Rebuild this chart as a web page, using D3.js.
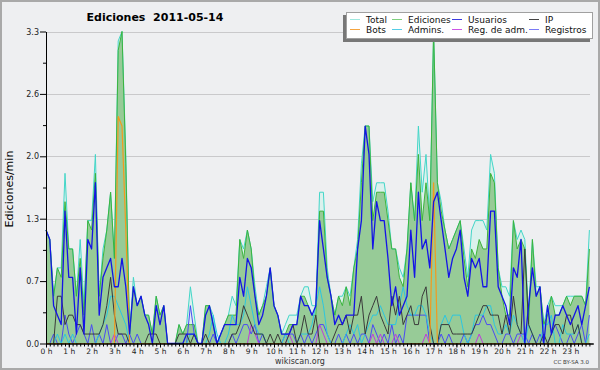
<!DOCTYPE html>
<html>
<head>
<meta charset="utf-8">
<script src="https://cdn.jsdelivr.net/npm/d3@7"></script>
<style>
  body { margin: 0; background: #eeeeee; }
  svg { display: block; font-family: "DejaVu Sans", sans-serif; }
</style>
</head>
<body>
<div id="chart"></div>
<script>
// edits per minute, one value every 10 minutes (144 slots, 0:00 -> 23:50)
const total = [
  1.2,1.1,0.5,0.8,0.8,1.8, 1.0,1.0,0.5,1.1,0.4,1.3, 1.3,2.0,0.5,1.0,1.2,1.6, 0.9,3.2,3.3,2.0,0.1,0.7,
  0.4,0.5,0.3,0.3,0.1,0.5, 0.3,0.4,0.0,0.0,0.0,0.2, 0.1,0.2,0.6,0.3,0.0,0.0, 0.4,0.4,0.3,0.0,0.1,0.2,
  0.3,0.5,0.4,1.1,1.0,1.2, 1.0,0.6,0.3,0.4,0.6,0.8, 0.4,0.3,0.1,0.2,0.3,0.3, 0.3,0.5,0.6,0.6,0.4,0.4,
  1.6,1.6,0.8,0.5,0.3,0.5, 0.5,0.6,0.5,0.8,1.1,1.9, 2.3,2.3,1.5,1.7,1.7,1.7, 1.4,1.0,1.0,0.8,0.7,1.0,
  1.7,1.3,2.3,1.6,2.0,1.3, 3.3,1.7,1.5,1.2,1.0,1.1, 1.2,1.3,1.0,0.7,1.2,1.3, 1.3,1.3,1.2,2.0,1.8,0.8,
  0.6,0.6,0.5,1.3,1.1,1.2, 1.1,0.3,1.1,0.6,0.6,0.2, 0.4,0.5,0.4,0.4,0.4,0.5, 0.5,0.5,0.5,0.5,0.4,1.2
]
const ediciones = [
  1.2,1.1,0.5,0.8,0.7,1.5, 1.0,1.0,0.5,0.9,0.3,1.3, 1.2,1.8,0.5,0.9,1.2,1.6, 0.9,3.1,3.3,1.9,0.1,0.6,
  0.4,0.5,0.3,0.3,0.1,0.5, 0.3,0.4,0.0,0.0,0.0,0.2, 0.1,0.2,0.2,0.2,0.0,0.0, 0.4,0.4,0.2,0.0,0.1,0.2,
  0.3,0.3,0.3,1.1,0.9,1.2, 1.0,0.5,0.3,0.4,0.5,0.8, 0.4,0.3,0.1,0.1,0.2,0.2, 0.2,0.5,0.5,0.4,0.3,0.3,
  1.4,1.4,0.7,0.5,0.3,0.5, 0.4,0.6,0.4,0.8,1.0,1.7, 2.3,2.3,1.3,1.6,1.6,1.6, 1.3,1.0,1.0,0.7,0.6,1.0,
  1.7,1.3,2.0,1.3,1.7,1.3, 3.3,1.7,1.4,1.2,1.0,1.1, 1.2,1.3,0.9,0.6,1.0,0.9, 1.1,1.0,1.0,1.8,1.7,0.8,
  0.5,0.3,0.3,1.3,1.0,1.1, 1.0,0.2,1.1,0.5,0.6,0.2, 0.3,0.5,0.3,0.3,0.4,0.5, 0.4,0.5,0.5,0.5,0.4,1.0
]
const usuarios = [
  1.2,1.1,0.4,0.3,0.2,1.4, 0.7,0.7,0.1,0.8,0.1,1.1, 1.0,1.7,0.3,0.7,0.8,0.9, 0.6,0.6,0.9,0.6,0.1,0.6,
  0.4,0.5,0.3,0.2,0.0,0.4, 0.2,0.4,0.0,0.0,0.0,0.0, 0.0,0.1,0.1,0.1,0.0,0.0, 0.3,0.4,0.2,0.0,0.1,0.2,
  0.2,0.2,0.2,0.7,0.5,0.9, 0.8,0.5,0.2,0.3,0.5,0.8, 0.4,0.3,0.1,0.1,0.1,0.2, 0.2,0.5,0.4,0.4,0.3,0.4,
  1.3,1.0,0.7,0.5,0.2,0.3, 0.2,0.3,0.3,0.3,1.0,1.3, 2.3,2.0,1.0,1.5,1.3,1.3, 0.9,0.4,0.6,0.3,0.4,0.5,
  1.2,0.7,1.6,1.0,1.1,0.8, 1.5,1.6,1.3,1.0,0.7,0.9, 1.0,1.2,0.7,0.5,0.9,0.8, 0.9,0.6,0.6,1.4,1.4,0.6,
  0.5,0.4,0.2,0.8,0.7,1.1, 0.0,0.4,0.8,0.5,0.6,0.0, 0.4,0.1,0.3,0.3,0.4,0.3, 0.2,0.3,0.4,0.2,0.4,0.6
]
const ip = [
  0.0,0.0,0.0,0.5,0.5,0.2, 0.3,0.3,0.2,0.2,0.1,0.1, 0.1,0.1,0.1,0.2,0.4,0.7, 0.3,0.1,0.1,0.1,0.0,0.0,
  0.0,0.0,0.0,0.1,0.1,0.1, 0.0,0.0,0.0,0.0,0.0,0.1, 0.1,0.1,0.0,0.1,0.0,0.0, 0.1,0.0,0.0,0.0,0.0,0.0,
  0.0,0.1,0.1,0.2,0.4,0.3, 0.2,0.1,0.1,0.1,0.0,0.1, 0.0,0.1,0.0,0.0,0.1,0.2, 0.0,0.1,0.3,0.1,0.1,0.3,
  0.0,0.0,0.0,0.0,0.1,0.2, 0.2,0.3,0.1,0.3,0.3,0.5, 0.1,0.3,0.4,0.5,0.3,0.2, 0.1,0.5,0.3,0.5,0.2,0.3,
  0.4,0.2,0.2,0.5,0.6,0.2, 0.0,0.0,0.2,0.2,0.2,0.1, 0.1,0.1,0.1,0.1,0.1,0.2, 0.3,0.4,0.4,0.3,0.3,0.3,
  0.1,0.3,0.1,0.5,0.2,0.1, 1.0,0.2,0.1,0.0,0.0,0.1, 0.0,0.1,0.2,0.2,0.1,0.3, 0.3,0.1,0.2,0.0,0.0,0.0
]
const bots = [
  0,0,0,0,0,0, 0,0,0,0,0,0, 0,0,0,0,0,0, 0,2.4,2.3,1.2,0,0,
  0,0,0,0,0,0, 0,0,0,0,0,0, 0,0,0,0,0,0, 0,0,0,0,0,0,
  0,0,0,0,0,0, 0,0,0,0,0,0, 0,0,0,0,0,0, 0,0,0,0,0,0,
  0,0,0,0,0,0, 0,0,0,0,0,0, 0,0,0,0,0,0, 0,0,0,0,0,0,
  0,0,0,0,0,0, 1.7,0,0,0,0,0, 0,0,0,0,0,0, 0,0,0,0,0,0,
  0,0,0,0,0,0, 0,0,0,0,0,0, 0,0,0,0,0,0, 0,0,0,0,0,0
]
const admins = [
  0.0,0.0,0.0,0.1,0.0,0.1, 0.0,0.1,0.0,0.0,0.0,0.0, 0.0,0.0,0.1,0.2,0.3,0.5, 0.5,0.4,0.3,0.2,0.0,0.0,
  0.0,0.0,0.0,0.0,0.0,0.0, 0.0,0.0,0.0,0.0,0.0,0.0, 0.0,0.0,0.1,0.1,0.0,0.0, 0.0,0.1,0.3,0.1,0.0,0.0,
  0.1,0.3,0.2,0.2,0.3,0.6, 0.4,0.2,0.1,0.1,0.0,0.0, 0.0,0.0,0.0,0.1,0.0,0.0, 0.0,0.1,0.1,0.1,0.2,0.4,
  0.6,0.4,0.1,0.0,0.0,0.0, 0.0,0.1,0.2,0.1,0.2,0.0, 0.1,0.2,0.3,0.3,0.4,0.3, 0.2,0.2,0.2,0.4,0.6,0.4,
  0.3,0.3,0.4,0.4,0.3,0.1, 0.0,0.0,0.2,0.3,0.2,0.3, 0.3,0.3,0.1,0.0,0.1,0.3, 0.3,0.3,0.4,0.4,0.2,0.1,
  0.1,0.2,0.1,0.3,0.2,0.1, 0.0,0.2,0.1,0.0,0.0,0.2, 0.2,0.3,0.0,0.0,0.2,0.1, 0.1,0.1,0.2,0.0,0.0,0.1
]
const regAdm = [
  0,0,0,0,0,0, 0,0,0,0,0,0, 0,0,0,0,0,0, 0.1,0,0,0,0,0,
  0,0,0,0,0,0, 0,0,0,0,0,0, 0,0,0,0,0,0, 0,0,0,0,0,0,
  0,0,0,0,0,0, 0.2,0.1,0,0,0,0, 0,0,0,0,0.1,0, 0,0,0,0,0,0,
  0.2,0.1,0,0,0,0, 0,0,0,0,0,0, 0,0,0.1,0,0.1,0, 0,0,0.1,0,0,0,
  0,0,0,0,0.1,0, 0,0,0,0,0,0, 0,0,0,0,0,0, 0.1,0,0,0,0,0,
  0,0,0,0,0,0.1, 0,0,0,0,0,0, 0,0,0,0,0,0, 0,0,0,0,0,0
]
const registros = [
  0.0,0.0,0.1,0.0,0.0,0.3, 0.1,0.0,0.1,0.2,0.1,0.0, 0.2,0.0,0.1,0.0,0.2,0.0, 0.0,0.1,0.1,0.0,0.1,0.0,
  0.1,0.0,0.0,0.0,0.0,0.0, 0.0,0.0,0.0,0.0,0.0,0.0, 0.0,0.0,0.4,0.1,0.0,0.0, 0.0,0.0,0.1,0.0,0.0,0.0,
  0.0,0.1,0.0,0.1,0.2,0.2, 0.1,0.2,0.0,0.1,0.0,0.0, 0.0,0.0,0.0,0.1,0.1,0.1, 0.0,0.1,0.0,0.1,0.0,0.1,
  0.2,0.2,0.1,0.0,0.0,0.1, 0.0,0.1,0.0,0.1,0.0,0.1, 0.1,0.0,0.2,0.1,0.0,0.1, 0.0,0.2,0.0,0.1,0.0,0.3,
  0.3,0.3,0.3,0.3,0.3,0.0, 0.0,0.0,0.1,0.0,0.1,0.0, 0.0,0.0,0.1,0.0,0.1,0.2, 0.2,0.3,0.2,0.2,0.1,0.0,
  0.0,0.1,0.1,0.0,0.1,0.1, 0.1,0.0,0.1,0.0,0.1,0.0, 0.0,0.1,0.2,0.1,0.0,0.0, 0.1,0.0,0.1,0.2,0.0,0.3
]

const hourLabels = ["0 h","1 h","2 h","3 h","4 h","5 h","6 h","7 h","8 h","9 h","10 h","11 h",
  "12 h","13 h","14 h","15 h","16 h","17 h","18 h","19 h","20 h","21 h","22 h","23 h"]
const yTicks = [0, 0.66, 1.32, 1.98, 2.64, 3.3]
const yTickLabels = ["0.0","0.7","1.3","2.0","2.6","3.3"]

const seriesNames = ["Total","Ediciones","Usuarios","IP","Bots","Admins.","Reg. de adm.","Registros"]
const seriesColors = ["#43d6c8","#3cb43c","#1414e6","#3a3a3a","#f39a1e","#2cc6e0","#c03cdc","#4a4af4"]
const legendColors = ["#9fe8df","#7fd07f","#3c3ce0","#444444","#f5a540","#55cde6","#cc55e6","#7a7af5"]

const width = 600, height = 370
const plot = { left: 46, right: 590, top: 31.5, bottom: 343.5 }

const svg = d3.select("#chart")
    .append("svg")
    .attr("width", width)
    .attr("height", height)

svg.append("rect")
    .attr("x", 1).attr("y", 1)
    .attr("width", width - 2).attr("height", height - 2)
    .attr("fill", "#eeeff1")
    .attr("stroke", "#a9a9a9")
    .attr("stroke-width", 2)

const xPositionScale = d3.scaleLinear().domain([0, 144]).range([plot.left, plot.left + 144 * 3.8])
const yPositionScale = d3.scaleLinear().domain([0, 3.3]).range([plot.bottom, plot.top])

// grid lines
svg.append("g")
    .selectAll("line")
    .data(yTicks.slice(1))
    .enter()
    .append("line")
    .attr("x1", plot.left)
    .attr("x2", plot.right)
    .attr("y1", d => Math.round(yPositionScale(d)) + 0.5)
    .attr("y2", d => Math.round(yPositionScale(d)) + 0.5)
    .attr("stroke", "#c9c9cb")

const area = values => d3.area()
    .x((d, i) => xPositionScale(i))
    .y0(yPositionScale(0))
    .y1(d => yPositionScale(d))(values)

const line = values => d3.line()
    .x((d, i) => xPositionScale(i))
    .y(d => yPositionScale(d))(values)

svg.append("path").attr("d", area(total)).attr("fill", "#dbf1ed")
svg.append("path").attr("d", area(ediciones)).attr("fill", "#97cb97")

// lines, back to front
const drawOrder = [
  [total, 0, 1], [ediciones, 1, 1], [registros, 7, 1], [regAdm, 6, 1],
  [admins, 5, 1], [ip, 3, 1], [bots, 4, 1.2], [usuarios, 2, 1.3]
]
drawOrder.forEach(([values, k, w]) => {
    svg.append("path")
        .attr("d", line(values))
        .attr("fill", "none")
        .attr("stroke", seriesColors[k])
        .attr("stroke-width", w)
        .attr("stroke-linejoin", "round")
})

// y axis
const yAxis = d3.axisLeft(yPositionScale)
    .tickValues(yTicks)
    .tickFormat((d, i) => yTickLabels[i])
    .tickSize(6)
    .tickSizeOuter(0)
    .tickPadding(1)
svg.append("g")
    .attr("class", "axis y-axis")
    .attr("transform", "translate(" + plot.left + ",0)")
    .call(yAxis)

const yMinor = d3.axisLeft(yPositionScale)
    .tickValues(d3.range(5).map(i => (yTicks[i] + yTicks[i + 1]) / 2))
    .tickFormat("")
    .tickSize(3)
    .tickSizeOuter(0)
svg.append("g")
    .attr("class", "axis")
    .attr("transform", "translate(" + plot.left + ",0)")
    .call(yMinor)

// x axis: a tick every 10 minutes, labels on the hour
const xMinor = d3.axisBottom(xPositionScale)
    .tickValues(d3.range(0, 144))
    .tickFormat("")
    .tickSize(3)
    .tickSizeOuter(0)
svg.append("g")
    .attr("class", "axis")
    .attr("transform", "translate(0," + plot.bottom + ")")
    .call(xMinor)

const xAxis = d3.axisBottom(xPositionScale)
    .tickValues(d3.range(24).map(h => h * 6))
    .tickFormat((d, i) => hourLabels[i])
    .tickSize(4)
    .tickPadding(1)
    .tickSizeOuter(0)
svg.append("g")
    .attr("class", "axis x-axis")
    .attr("transform", "translate(0," + plot.bottom + ")")
    .call(xAxis)

svg.selectAll(".axis path").attr("stroke", "#000")
svg.selectAll(".axis line").attr("stroke", "#000")
svg.selectAll(".axis text")
    .attr("font-family", "DejaVu Sans")
    .attr("font-size", 7.5)
    .attr("fill", "#222")
svg.selectAll(".y-axis text").attr("font-size", 8)

// titles
svg.append("text")
    .text("Ediciones  2011-05-14")
    .attr("x", 155)
    .attr("y", 21)
    .attr("text-anchor", "middle")
    .attr("font-weight", "bold")
    .attr("font-size", 11)
    .style("white-space", "pre")

svg.append("text")
    .text("Ediciones/min")
    .attr("transform", "translate(13,189) rotate(-90)")
    .attr("text-anchor", "middle")
    .attr("font-size", 11)

svg.append("text")
    .text("wikiscan.org")
    .attr("x", 300)
    .attr("y", 364)
    .attr("text-anchor", "middle")
    .attr("font-size", 8)
    .attr("fill", "#333")

svg.append("text")
    .text("CC BY-SA 3.0")
    .attr("x", 589)
    .attr("y", 364)
    .attr("text-anchor", "end")
    .attr("font-size", 5.5)
    .attr("fill", "#333")

// legend
const legend = svg.append("g")
legend.append("rect")
    .attr("x", 343).attr("y", 15)
    .attr("width", 247).attr("height", 27)
    .attr("fill", "#777")
legend.append("rect")
    .attr("x", 346.5).attr("y", 12.5)
    .attr("width", 246).attr("height", 26)
    .attr("fill", "#fff")
    .attr("stroke", "#a0a0a0")

const legendCols = [350, 392, 452, 529]
const legendRows = [19.5, 29.5]
seriesNames.forEach((name, i) => {
    const g = legend.append("g")
        .attr("transform", "translate(" + legendCols[i % 4] + "," + legendRows[Math.floor(i / 4)] + ")")
    g.append("line")
        .attr("x1", 0).attr("x2", 10)
        .attr("stroke", legendColors[i])
    g.append("text")
        .text(name)
        .attr("x", 16)
        .attr("y", 3)
        .attr("font-size", 9)
        .attr("fill", "#111")
})
</script>
</body>
</html>
